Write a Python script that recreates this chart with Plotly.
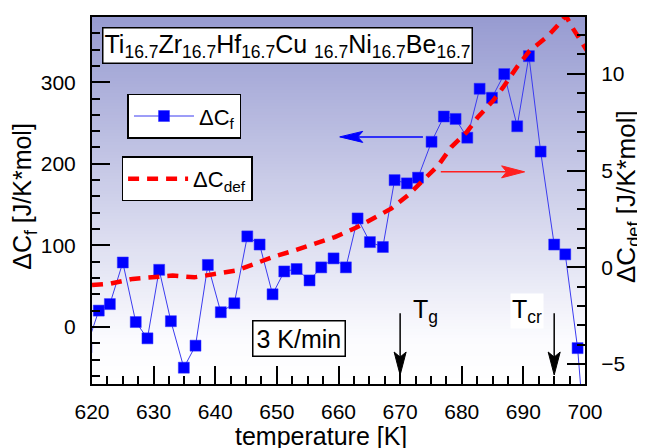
import numpy as np
import plotly.graph_objects as go

# ---------------- data ----------------
temp_f = [619.1, 621.1, 622.9, 625.0, 627.1, 629.0, 630.9, 632.8, 634.9, 636.8,
          638.8, 640.9, 643.1, 645.2, 647.2, 649.3, 651.2, 653.2, 655.3, 657.2,
          659.2, 661.2, 663.1, 665.1, 667.2, 669.1, 671.1, 672.9, 675.1, 677.1,
          679.0, 680.9, 682.9, 684.9, 686.9, 689.0, 690.9, 692.8, 695.0, 696.8,
          698.8, 700.8]
dc_f = [-25, 20, 28, 79, 6, -14, 70, 7, -50, -23,
        76, 18, 29, 111, 101, 40, 68, 71, 57, 73,
        84, 73, 133, 104, 98, 180, 176, 183, 227, 258,
        255, 232, 292, 281, 310, 246, 332, 215, 101, 89,
        -26, -214]

temp_def = [620.0, 623.0, 626.6, 629.8, 633.1, 636.6, 640.1, 643.4, 646.3, 649.6,
            652.9, 656.3, 659.4, 662.9, 665.6, 668.6, 671.3, 673.7, 676.2, 678.3,
            680.8, 682.6, 685.1, 686.7, 689.1, 691.0, 694.0, 696.2, 696.9, 697.8,
            699.4, 700.5]
dc_def = [-0.92, -0.84, -0.60, -0.52, -0.43, -0.52, -0.34, -0.17, 0.17, 0.56,
          0.87, 1.25, 1.56, 2.05, 2.53, 3.04, 3.73, 4.45, 5.27, 6.21,
          6.98, 7.75, 8.61, 9.29, 10.41, 11.18, 11.95, 12.72, 13.0, 12.46,
          11.69, 11.1]

x_range = [620, 700]
y_left_range = [-70, 380]
y_right_range = [-6.03, 12.93]

x_ticks = [620, 630, 640, 650, 660, 670, 680, 690, 700]
y_left_ticks = [0, 100, 200, 300]
y_right_ticks = [-5, 0, 5, 10]

T_g = 670
T_cr = 695

FONT = "Liberation Sans, Arial, sans-serif"

# the page body adds an 8 px margin around the figure
PAGE_OFF = 8
FIG_W, FIG_H = 645 - PAGE_OFF, 448 - PAGE_OFF
# plot area in page pixels
PL, PR, PT, PB = 92.4, 585.2, 14.7, 384.0

fig = go.Figure()

# background gradient (lavender at top fading to white)
n_bg = 120
bg_edges = np.linspace(y_left_range[0], y_left_range[1], n_bg + 1)
bg_z = [[k / (n_bg - 1)] for k in range(n_bg)]
fig.add_trace(go.Heatmap(
    x=x_range, y=bg_edges, z=bg_z,
    colorscale=[[0, "#ffffff"], [0.12, "#fbfbfe"], [1, "#979bd1"]],
    showscale=False, hoverinfo="skip", showlegend=False,
))

fig.add_trace(go.Scatter(
    x=temp_f, y=dc_f, mode="lines+markers",
    name="ΔC<sub>f</sub>",
    line=dict(color="#3b3bf0", width=1),
    marker=dict(symbol="square", size=11, color="#0000ff",
                line=dict(color="#3030ff", width=0.5)),
    legend="legend", showlegend=True,
))

fig.add_trace(go.Scatter(
    x=temp_def, y=dc_def, mode="lines", yaxis="y2",
    name="ΔC<sub>def</sub>",
    line=dict(color="#ff0000", width=4.5, dash="11px,8px"),
    legend="legend2", showlegend=True,
))

axis_common = dict(
    showline=True, linewidth=2, linecolor="black",
    ticks="inside", ticklen=18, tickwidth=2, tickcolor="black",
    showgrid=False, zeroline=False,
    tickfont=dict(family=FONT, size=21, color="black"),
)

fig.update_layout(
    width=FIG_W, height=FIG_H, autosize=False,
    margin=dict(l=PL - PAGE_OFF, r=FIG_W - (PR - PAGE_OFF),
                t=PT - PAGE_OFF, b=FIG_H - (PB - PAGE_OFF), pad=0),
    paper_bgcolor="white", plot_bgcolor="white",
    font=dict(family=FONT, color="black"),
    showlegend=True,
    xaxis=dict(range=x_range, tickvals=x_ticks, mirror=True,
               minor=dict(dtick=2.5, tick0=620, ticks="inside", ticklen=8,
                          tickwidth=1.5, tickcolor="black"),
               ticklabelstandoff=8, **axis_common),
    yaxis=dict(range=y_left_range, tickvals=y_left_ticks,
               minor=dict(dtick=20, tick0=0, ticks="inside", ticklen=8,
                          tickwidth=1.5, tickcolor="black"),
               ticklabelstandoff=10, **axis_common),
    yaxis2=dict(range=y_right_range, tickvals=y_right_ticks, overlaying="y",
                side="right", anchor="x",
                minor=dict(dtick=1, tick0=0, ticks="inside", ticklen=8,
                           tickwidth=1.5, tickcolor="black"),
                ticklabelstandoff=10, **axis_common),
    legend=dict(x=0.072, y=0.791, xanchor="left", yanchor="top", visible=True,
                bgcolor="white", bordercolor="black", borderwidth=1.5,
                font=dict(family=FONT, size=22), itemwidth=60),
    legend2=dict(x=0.060, y=0.620, xanchor="left", yanchor="top", visible=True,
                 bgcolor="white", bordercolor="black", borderwidth=1.5,
                 font=dict(family=FONT, size=22), itemwidth=60),
)

def px2paper_x(px):
    return (px - PL) / (PR - PL)

def px2paper_y(py):
    return (PB - py) / (PB - PT)

annotations = [
    dict(text="Ti<sub>16.7</sub>Zr<sub>16.7</sub>Hf<sub>16.7</sub>Cu <sub>16.7</sub>Ni<sub>16.7</sub>Be<sub>16.7</sub>",
         x=px2paper_x(102), y=px2paper_y(25), xanchor="left", yanchor="top",
         bgcolor="white", bordercolor="black", borderwidth=1.5, borderpad=1,
         font=dict(size=25)),
    dict(text="3 K/min", x=px2paper_x(299), y=px2paper_y(338.5),
         xanchor="center", yanchor="middle", bgcolor="white",
         bordercolor="black", borderwidth=1.5, borderpad=3, font=dict(size=25)),
    dict(text="T<sub>g</sub>", x=px2paper_x(411), y=px2paper_y(292),
         xanchor="left", yanchor="top", font=dict(size=25)),
    dict(text="T<sub>cr</sub>", x=px2paper_x(510), y=px2paper_y(292),
         xanchor="left", yanchor="top", bgcolor="white", font=dict(size=25)),
    dict(text="ΔC<sub>f</sub> [J/K*mol]", textangle=-90,
         x=px2paper_x(25), y=px2paper_y(195), xanchor="center", yanchor="middle",
         font=dict(size=25)),
    dict(text="ΔC<sub>def</sub> [J/K*mol]", textangle=-90,
         x=px2paper_x(627), y=px2paper_y(195), xanchor="center", yanchor="middle",
         font=dict(size=26)),
    dict(text="temperature [K]", x=px2paper_x(321), y=px2paper_y(436),
         xanchor="center", yanchor="middle", font=dict(size=25)),
]
for a in annotations:
    a.setdefault("xref", "paper")
    a.setdefault("yref", "paper")
    a["showarrow"] = False
fig.update_layout(annotations=annotations)

# arrows: (tail_x, tail_y, tip_x, tip_y, yref, color, head path in px, shaft back-off)
head_down = "M0,0 L-6,23 L0,18 L6,23 Z"
head_left = "M0,0 L23,5.5 L18,0 L23,-5.5 Z"
head_right = "M0,0 L-23,6 L-18,0 L-23,-6 Z"
arrows = [
    (673.7, 233.0, 660.2, 233.0, "y", "#0000ff", head_left, (2.9, 0)),
    (676.6, 4.93, 690.2, 4.93, "y2", "#ff2020", head_right, (-2.9, 0)),
    (T_g, 16.7, T_g, -59.0, "y", "black", head_down, (0, 21.0)),
    (T_cr, 16.7, T_cr, -59.0, "y", "black", head_down, (0, 21.0)),
]
shapes = []
for tx, ty, hx, hy, yr, col, path, back in arrows:
    shapes.append(dict(type="line", xref="x", yref=yr, x0=tx, y0=ty,
                       x1=hx + back[0], y1=hy + back[1],
                       line=dict(color=col, width=1.5)))
    shapes.append(dict(type="path", xref="x", yref=yr, xsizemode="pixel",
                       ysizemode="pixel", xanchor=hx, yanchor=hy, path=path,
                       fillcolor=col, line=dict(color=col, width=1)))
fig.update_layout(shapes=shapes)

fig.write_html("out.html")
